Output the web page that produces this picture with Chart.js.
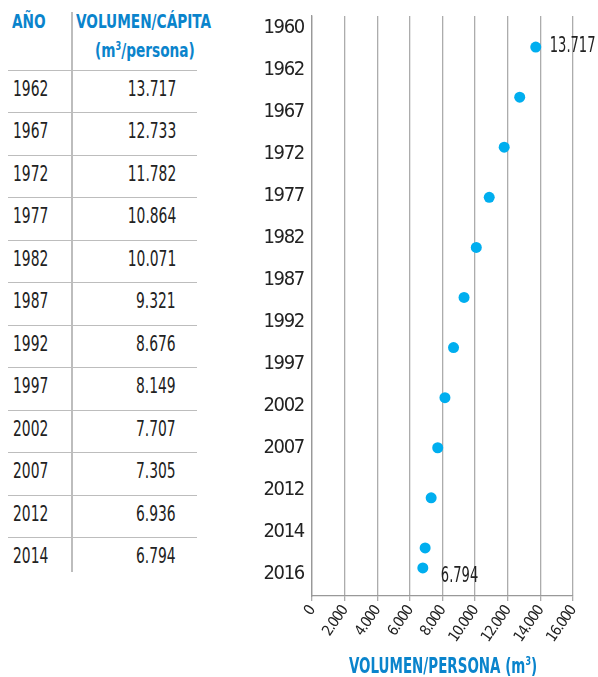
<!DOCTYPE html>
<html><head><meta charset="utf-8">
<script src="https://cdn.jsdelivr.net/npm/chart.js@4.4.0/dist/chart.umd.min.js"></script>
<style>
html,body{margin:0;padding:0;background:#fff;}
body{width:598px;height:677px;position:relative;overflow:hidden;font-family:"Liberation Sans Narrow","DejaVu Sans Condensed",sans-serif;color:#222;}
#wrap{position:absolute;left:250px;top:0;width:348px;height:677px;}
.hdr{position:absolute;color:#0a84cc;font-weight:bold;font-size:20px;white-space:nowrap;line-height:22px;transform:scaleX(0.76);transform-origin:0 0;}
.row{position:absolute;left:8px;width:189px;box-sizing:border-box;border-top:1.5px solid #bdbdbd;font-size:22px;}
.row span{position:absolute;top:50%;white-space:nowrap;}
.yr{left:5px;transform:translateY(-64%) scaleX(0.7);transform-origin:0 50%;}
.val{right:21px;transform:translateY(-64%) scaleX(0.7);transform-origin:100% 50%;}
#vline{position:absolute;left:71px;top:12px;width:1.5px;height:560px;background:#bdbdbd;}
#xtitle{position:absolute;left:443px;top:648px;color:#0a84cc;font-weight:bold;font-size:22px;line-height:26px;white-space:nowrap;transform:translateX(-50%) scaleX(0.68);transform-origin:50% 50%;}
</style>
</head><body>
<div id="table"></div>
<div id="wrap"><canvas id="c" width="348" height="677"></canvas></div>
<div id="xtitle">VOLUMEN/PERSONA (m<sup style="font-size:13px;vertical-align:8px">3</sup>)</div>
<script>
// ---- data ----
const years = [1962, 1967, 1972, 1977, 1982, 1987, 1992, 1997, 2002, 2007, 2012, 2014];
const volumes = [13717, 12733, 11782, 10864, 10071, 9321, 8676, 8149, 7707, 7305, 6936, 6794];
const yearLabels = ['1960','1962','1967','1972','1977','1982','1987','1992','1997','2002','2007','2012','2014','2016'];
const xTicks = [0, 2000, 4000, 6000, 8000, 10000, 12000, 14000, 16000];
const labelledPoints = [0, volumes.length - 1];

const F = '"Liberation Sans Narrow","DejaVu Sans Condensed",sans-serif';
const fmt = v => v === 0 ? '0' : Math.floor(v/1000) + '.' + String(v % 1000).padStart(3,'0');

// ---- table ----
const t = document.getElementById('table');
let html = '<div class="hdr" style="left:12px;top:10px">AÑO</div>' +
  '<div class="hdr" style="left:76px;top:10px">VOLUMEN/CÁPITA</div>' +
  '<div class="hdr" style="left:95px;top:35px">(m<sup style="font-size:12px;vertical-align:7px">3</sup>/persona)</div>' +
  '<div id="vline"></div>';
const rowTop = 70, rowH = 42.48;
years.forEach((yr, i) => {
  html += '<div class="row" style="top:' + (rowTop + i*rowH) + 'px;height:' + rowH + 'px">' +
    '<span class="yr">' + yr + '</span><span class="val">' + fmt(volumes[i]) + '</span></div>';
});
t.innerHTML = html;

// ---- chart ----
const condense = {
  id: 'condense',
  beforeDraw(chart) { chart.ctx.letterSpacing = '-1.3px'; }
};
const pointLabels = {
  id: 'pointLabels',
  afterDatasetsDraw(chart) {
    const meta = chart.getDatasetMeta(0);
    const ctx = chart.ctx;
    ctx.save();
    ctx.letterSpacing = '0px';
    ctx.font = '22px ' + F;
    ctx.fillStyle = '#222';
    ctx.textAlign = 'left';
    ctx.textBaseline = 'middle';
    labelledPoints.forEach((idx, k) => {
      const el = meta.data[idx];
      const dx = k === 0 ? 14 : 18, dy = k === 0 ? -1 : 8;
      ctx.save();
      ctx.translate(el.x + dx, el.y + dy);
      ctx.scale(0.66, 1);
      ctx.fillText(fmt(volumes[idx]), 0, 0);
      ctx.restore();
    });
    ctx.restore();
  }
};

new Chart(document.getElementById('c'), {
  type: 'scatter',
  data: {
    datasets: [{
      data: years.map((yr, i) => ({x: volumes[i], y: yr})),
      backgroundColor: '#00aeef',
      borderWidth: 0,
      pointRadius: 5.5,
      xAxisID: 'x',
      yAxisID: 'y'
    }]
  },
  options: {
    responsive: false,
    animation: false,
    layout: {padding: {top: 16, right: 25, bottom: 0, left: 0}},
    plugins: {legend: {display: false}, tooltip: {enabled: false}},
    scales: {
      x: {
        type: 'linear', position: 'bottom', min: xTicks[0], max: xTicks[xTicks.length-1],
        afterFit(s) { s.height = 81; s.paddingLeft = 0; s.paddingRight = 0; },
        afterBuildTicks(s) { s.ticks = xTicks.map(v => ({value: v})); },
        ticks: {autoSkip: false, minRotation: 55, maxRotation: 55, color: '#222',
          font: {size: 15, family: F}, padding: 2, callback: v => fmt(v)},
        grid: {color: '#acacac', lineWidth: 1.3, tickLength: 5, drawTicks: true},
        border: {display: true, color: '#999', width: 1.3}
      },
      y: {type: 'linear', display: false, reverse: true, min: 1958.9, max: 2016.8},
      yl: {
        type: 'linear', position: 'left', reverse: true, min: -0.28, max: 13.52,
        afterFit(s) { s.width = 62; s.paddingTop = 0; s.paddingBottom = 0; },
        afterBuildTicks(s) { s.ticks = yearLabels.map((_, i) => ({value: i})); },
        ticks: {autoSkip: false, padding: 8, color: '#222', font: {size: 20, family: F},
          callback: v => yearLabels[v]},
        grid: {display: false, drawTicks: false},
        border: {display: true, color: '#999', width: 1.3}
      }
    }
  },
  plugins: [condense, pointLabels]
});
</script>
</body></html>
